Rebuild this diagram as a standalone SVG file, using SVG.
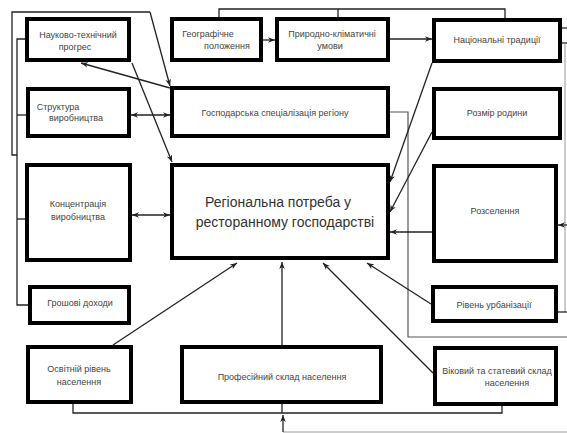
<svg xmlns="http://www.w3.org/2000/svg" width="567" height="433" viewBox="0 0 567 433">
<style>
.box{fill:#fff;stroke:#000;stroke-width:4}
.t{font-family:"Liberation Sans",Arial,sans-serif;font-size:9px;fill:#444;text-anchor:middle}
.big{font-family:"Liberation Sans",Arial,sans-serif;font-size:14px;fill:#333;text-anchor:middle}
.c{fill:none;stroke:#222;stroke-width:1.3}
.d{fill:none;stroke:#555;stroke-width:1.2}
.g{fill:none;stroke:#999;stroke-width:1}
</style>
<defs>
<marker id="a" viewBox="0 0 10 10" refX="10" refY="5" markerWidth="7" markerHeight="7" markerUnits="userSpaceOnUse" orient="auto-start-reverse">
<path d="M0,1 L10,5 L0,9 L3,5 Z" fill="#222"/>
</marker>
</defs>
<rect width="567" height="433" fill="#fff"/>
<g id="connectors">
<polyline class="c" points="150,12 12,12 12,155 17,155"/>
<line class="c" x1="150" y1="12" x2="170" y2="86" marker-end="url(#a)"/>
<polyline class="c" points="25,39 17,39 17,305 28,305"/>
<line class="c" x1="17" y1="115" x2="26" y2="115"/>
<line class="c" x1="17" y1="219" x2="25" y2="219"/>
<line class="c" x1="170" y1="88" x2="81" y2="63" marker-end="url(#a)"/>
<line class="c" x1="132" y1="63" x2="172" y2="162" marker-end="url(#a)"/>
<line class="c" x1="131" y1="115" x2="170" y2="115" marker-start="url(#a)" marker-end="url(#a)"/>
<line class="c" x1="132" y1="215" x2="170" y2="215" marker-start="url(#a)" marker-end="url(#a)"/>
<line class="c" x1="263" y1="40" x2="275" y2="40" marker-end="url(#a)"/>
<line class="c" x1="390" y1="39" x2="432" y2="39" marker-end="url(#a)"/>
<polyline class="c" points="219,17 219,9 505,9 505,18"/>
<line class="c" x1="338" y1="9" x2="338" y2="17"/>
<line class="c" x1="562" y1="28" x2="567" y2="28"/>
<line class="c" x1="562" y1="43" x2="567" y2="43"/>
<line class="g" x1="565" y1="43" x2="565" y2="312"/>
<line class="c" x1="567" y1="225" x2="558" y2="225" marker-end="url(#a)"/>
<line class="c" x1="567" y1="312" x2="558" y2="312"/>
<polyline class="d" points="390,112 408,112 408,337 567,337"/>
<line class="c" x1="432" y1="63" x2="390" y2="182" marker-end="url(#a)"/>
<line class="c" x1="432" y1="132" x2="390" y2="212" marker-end="url(#a)"/>
<line class="c" x1="432" y1="232" x2="390" y2="232" marker-end="url(#a)"/>
<line class="c" x1="431" y1="304" x2="367" y2="263" marker-end="url(#a)"/>
<line class="c" x1="433" y1="373" x2="323" y2="263" marker-end="url(#a)"/>
<line class="c" x1="282" y1="345" x2="282" y2="262" marker-end="url(#a)"/>
<line class="c" x1="113" y1="345" x2="237" y2="263" marker-end="url(#a)"/>
<polyline class="c" points="73,404 73,413 502,413 502,406"/>
<line class="c" x1="282" y1="404" x2="282" y2="413"/>
<polyline class="g" points="567,432 283,432"/>
<line class="c" x1="283" y1="432" x2="283" y2="415" marker-end="url(#a)"/>
</g>
<g id="n1"><rect class="box" x="27" y="19" width="102" height="41"/><text class="t" x="78" y="38">Науково-технічний</text><text class="t" x="75" y="50">прогрес</text></g>
<g id="n2"><rect class="box" x="28" y="89" width="101" height="47"/><text class="t" x="58" y="110">Структура</text><text class="t" x="76" y="121">виробництва</text></g>
<g id="n3"><rect class="box" x="172" y="19" width="89" height="41"/><text class="t" x="208" y="37">Географічне</text><text class="t" x="227" y="49">положення</text></g>
<g id="n4"><rect class="box" x="277" y="19" width="111" height="41"/><text class="t" x="332" y="37">Природно-кліматичні</text><text class="t" x="330" y="49">умови</text></g>
<g id="n5"><rect class="box" x="172" y="88" width="216" height="48"/><text class="t" x="275" y="116">Господарська спеціалізація регіону</text></g>
<g id="n6"><rect class="box" x="434" y="20" width="126" height="41"/><text class="t" x="497" y="43">Національні традиції</text></g>
<g id="n7"><rect class="box" x="434" y="89" width="126" height="49"/><text class="t" x="497" y="116">Розмір родини</text></g>
<g id="n8"><rect class="box" x="434" y="166" width="122" height="95"/><text class="t" x="495" y="214">Розселення</text></g>
<g id="n9"><rect class="box" x="433" y="287" width="123" height="34"/><text class="t" x="494" y="308">Рівень урбанізації</text></g>
<g id="n10"><rect class="box" x="172" y="165" width="216" height="93"/><text class="big" x="278" y="207">Регіональна потреба у</text><text class="big" x="285" y="227">ресторанному господарстві</text></g>
<g id="n11"><rect class="box" x="27" y="165" width="103" height="95"/><text class="t" x="78" y="207">Концентрація</text><text class="t" x="78" y="220">виробництва</text></g>
<g id="n12"><rect class="box" x="30" y="287" width="99" height="36"/><text class="t" x="80" y="306">Грошові доходи</text></g>
<g id="n13"><rect class="box" x="28" y="347" width="103" height="55"/><text class="t" x="79" y="372">Освітній рівень</text><text class="t" x="79" y="385">населення</text></g>
<g id="n14"><rect class="box" x="182" y="347" width="199" height="55"/><text class="t" x="282" y="380">Професійний склад населення</text></g>
<g id="n15"><rect class="box" x="435" y="348" width="121" height="56"/><text class="t" x="497" y="374">Віковий та статевий склад</text><text class="t" x="507" y="386">населення</text></g>
</svg>
